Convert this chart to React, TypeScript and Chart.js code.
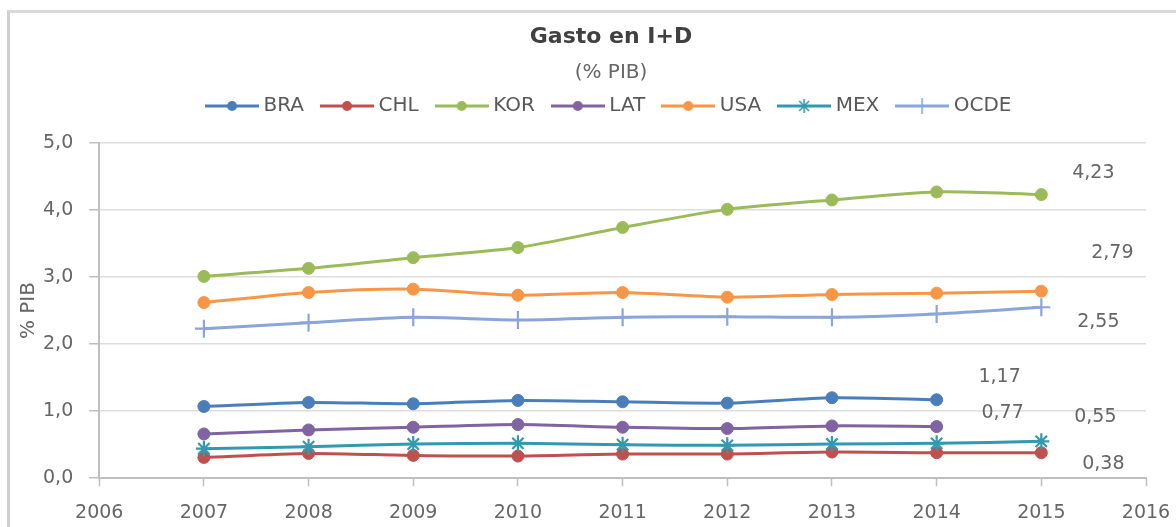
import { useEffect, useRef } from 'react';
import { Chart, registerables } from 'chart.js';

Chart.register(...registerables);

// ---- data ----
const years = [2007, 2008, 2009, 2010, 2011, 2012, 2013, 2014, 2015];
const seriesNames = ['BRA', 'CHL', 'KOR', 'LAT', 'USA', 'MEX', 'OCDE'];
const braValues = [1.07, 1.13, 1.11, 1.16, 1.14, 1.12, 1.2, 1.17];
const chlValues = [0.31, 0.37, 0.34, 0.33, 0.36, 0.36, 0.39, 0.38, 0.38];
const korValues = [3.01, 3.13, 3.29, 3.44, 3.74, 4.01, 4.15, 4.27, 4.23];
const latValues = [0.66, 0.72, 0.76, 0.8, 0.76, 0.74, 0.78, 0.77];
const usaValues = [2.62, 2.77, 2.82, 2.73, 2.77, 2.7, 2.74, 2.76, 2.79];
const mexValues = [0.44, 0.47, 0.51, 0.52, 0.5, 0.49, 0.51, 0.52, 0.55];
const ocdeValues = [2.23, 2.32, 2.4, 2.36, 2.4, 2.41, 2.4, 2.45, 2.55];
const seriesValues = [braValues, chlValues, korValues, latValues, usaValues, mexValues, ocdeValues];
const xTickRange = [2006, 2016];
const yTickRange = [0, 5];
const titleText = 'Gasto en I+D';
const subtitleText = '(% PIB)';
const yAxisTitle = '% PIB';

// ---- styles ----
const seriesColors = ['#4a7ebb', '#c0504d', '#9bbb59', '#8064a2', '#f79646', '#3399b0', '#8aa6d8'];
const seriesMarkers = ['circle', 'circle', 'circle', 'circle', 'circle', 'star', 'cross'];
// label offsets (px) relative to the last point of each series
const lastLabelOffsets = [
  [63, -23],
  [62, 11],
  [52, -21.5],
  [66, -14],
  [71, -38],
  [54, -24],
  [57, 15],
];
const FONT = 'DejaVu Sans';
const LEGEND_EXTRA = 17;

function fmt(v: number, d: number) {
  return v.toFixed(d).replace('.', ',');
}

function makeLegendIcon(color: string, style: string) {
  const c = document.createElement('canvas');
  c.width = 54;
  c.height = 20;
  const ctx = c.getContext('2d')!;
  ctx.strokeStyle = color;
  ctx.fillStyle = color;
  ctx.lineWidth = 3;
  ctx.beginPath();
  ctx.moveTo(0, 10);
  ctx.lineTo(54, 10);
  ctx.stroke();
  const cx = 27;
  const cy = 10;
  if (style === 'circle') {
    ctx.beginPath();
    ctx.arc(cx, cy, 5, 0, Math.PI * 2);
    ctx.fill();
  } else if (style === 'star') {
    ctx.lineWidth = 1.6;
    for (let k = 0; k < 4; k++) {
      const a = (k * Math.PI) / 4;
      ctx.beginPath();
      ctx.moveTo(cx - Math.cos(a) * 7, cy - Math.sin(a) * 7);
      ctx.lineTo(cx + Math.cos(a) * 7, cy + Math.sin(a) * 7);
      ctx.stroke();
    }
  } else if (style === 'cross') {
    ctx.lineWidth = 1.6;
    ctx.beginPath();
    ctx.moveTo(cx, cy - 8);
    ctx.lineTo(cx, cy + 8);
    ctx.stroke();
  }
  return c;
}

const legendSpacer = {
  id: 'legendSpacer',
  beforeUpdate(chart: any) {
    const lg = chart.legend;
    if (lg && !lg._spacerPatched) {
      const orig = lg.fit.bind(lg);
      lg.fit = function () {
        orig();
        this.height += LEGEND_EXTRA;
      };
      lg._spacerPatched = true;
    }
  },
};

const lastValueLabels = {
  id: 'lastValueLabels',
  afterDatasetsDraw(chart: any) {
    const ctx = chart.ctx;
    ctx.save();
    ctx.font = `19px "${FONT}"`;
    ctx.fillStyle = '#666666';
    ctx.textAlign = 'center';
    ctx.textBaseline = 'middle';
    seriesValues.forEach((vals, i) => {
      const meta = chart.getDatasetMeta(i);
      const pt = meta.data[vals.length - 1];
      if (!pt) return;
      const [dx, dy] = lastLabelOffsets[i];
      ctx.fillText(fmt(vals[vals.length - 1], 2), pt.x + dx, pt.y + dy);
    });
    ctx.restore();
  },
};

export default function App() {
  const ref = useRef<HTMLCanvasElement>(null);

  useEffect(() => {
    if (!ref.current) return;
    const icons = seriesNames.map((_, i) => makeLegendIcon(seriesColors[i], seriesMarkers[i]));
    const datasets = seriesNames.map((name, i) => {
      const marker = seriesMarkers[i];
      return {
        label: name,
        data: seriesValues[i].map((v, j) => ({ x: years[j], y: v })),
        borderColor: seriesColors[i],
        backgroundColor: seriesColors[i],
        borderWidth: 3,
        tension: 0.25,
        pointStyle: marker,
        pointRadius: marker === 'circle' ? 6 : marker === 'star' ? 8 : 9,
        pointBorderWidth: marker === 'circle' ? 1 : 2.2,
        pointBackgroundColor: seriesColors[i],
        pointBorderColor: seriesColors[i],
        order: seriesNames.length - i,
        clip: false as any,
        yAxisID: 'y',
        xAxisID: 'x',
      };
    });

    const chart = new Chart(ref.current, {
      type: 'line',
      data: { datasets },
      options: {
        animation: false,
        responsive: false,
        events: [],
        layout: { padding: { left: 7, right: 7, top: 0, bottom: 0 } },
        scales: {
          x: {
            type: 'linear',
            min: xTickRange[0],
            max: xTickRange[1],
            ticks: {
              stepSize: 1,
              padding: 15,
              color: '#666666',
              font: { family: FONT, size: 19 },
              callback: (v: any) => String(v),
            },
            grid: {
              drawOnChartArea: false,
              drawTicks: true,
              tickLength: 8,
              tickColor: '#bfbfbf',
              tickWidth: 1.5,
              color: '#bfbfbf',
            },
            border: { color: '#bfbfbf', width: 2 },
          },
          y: {
            min: yTickRange[0],
            max: yTickRange[1],
            ticks: {
              stepSize: 1,
              padding: 16,
              color: '#666666',
              font: { family: FONT, size: 19 },
              callback: (v: any) => fmt(Number(v), 1),
            },
            grid: {
              color: '#dedede',
              lineWidth: 1.5,
              tickLength: 10,
              tickColor: '#bfbfbf',
              tickWidth: 1.5,
            },
            border: { color: '#bfbfbf', width: 2 },
            title: {
              display: true,
              text: yAxisTitle,
              color: '#666666',
              font: { family: FONT, size: 20 },
              padding: { top: 0, bottom: -14 },
            },
          },
          rightSpacer: {
            type: 'linear',
            position: 'right',
            display: true,
            ticks: { display: false },
            grid: { display: false, drawTicks: false, drawOnChartArea: false },
            border: { display: false },
            title: {
              display: true,
              text: '',
              font: { family: FONT, size: 10 },
              padding: { top: 0, bottom: 47 },
            },
          },
        },
        plugins: {
          title: {
            display: true,
            text: titleText,
            color: '#404040',
            font: { family: FONT, size: 22, weight: 'bold' },
            padding: { top: 11, bottom: 5 },
          },
          subtitle: {
            display: true,
            text: subtitleText,
            color: '#666666',
            font: { family: FONT, size: 20 },
            padding: { top: 5, bottom: -9.9 },
          },
          legend: {
            display: true,
            position: 'top',
            labels: {
              usePointStyle: true,
              pointStyleWidth: 43,
              padding: 21.5,
              color: '#595959',
              font: { family: FONT, size: 20 },
              sort: (a: any, b: any) => a.datasetIndex - b.datasetIndex,
              generateLabels: (c: any) =>
                (Chart.defaults.plugins.legend.labels as any)
                  .generateLabels(c)
                  .map((l: any) => ({ ...l, pointStyle: icons[l.datasetIndex] })),
            },
          },
          tooltip: { enabled: false },
        },
      } as any,
      plugins: [legendSpacer, lastValueLabels],
    });
    return () => chart.destroy();
  }, []);

  return (
    <div
      style={{
        position: 'fixed',
        left: 7,
        top: 10,
        width: 1169,
        height: 517,
        overflow: 'hidden',
        background: '#fff',
      }}
    >
      <div
        style={{
          borderLeft: '3px solid #cfcfcf',
          borderTop: '3px solid #d9d9d9',
          width: 1210,
          height: 540,
        }}
      >
        <canvas ref={ref} width={1202} height={526} style={{ display: 'block' }} />
      </div>
    </div>
  );
}
